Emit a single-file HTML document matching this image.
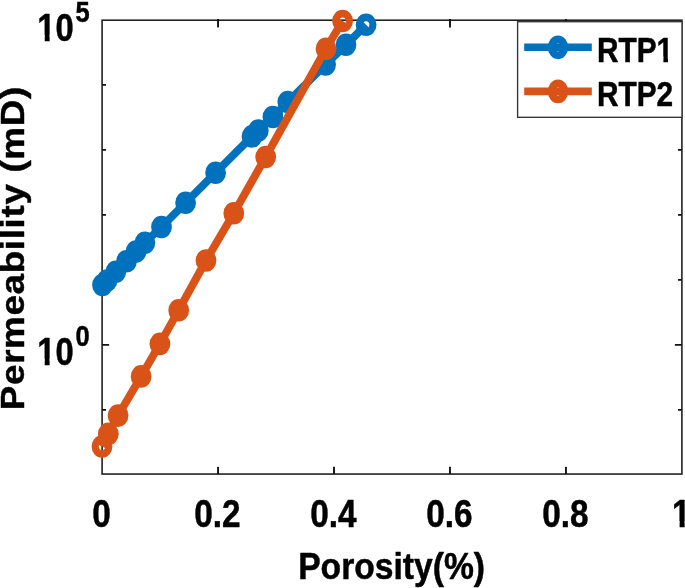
<!DOCTYPE html>
<html><head><meta charset="utf-8"><title>Permeability vs Porosity</title>
<style>html,body{margin:0;padding:0;background:#fff}body{width:685px;height:588px;overflow:hidden}</style></head>
<body>
<svg width="685" height="588" viewBox="0 0 685 588" style="display:block" font-family="'Liberation Sans', sans-serif" font-weight="bold">
<rect width="685" height="588" fill="#fff"/>
<g stroke="#222" stroke-width="1.6" fill="none">
<rect x="102.10" y="20.20" width="579.80" height="453.85"/>
<path stroke="#111" stroke-width="1.9" d="M218.06 474.05v-7.2"/>
<path stroke="#111" stroke-width="1.9" d="M218.06 19.00v8.4"/>
<path stroke="#111" stroke-width="1.9" d="M334.02 474.05v-7.2"/>
<path stroke="#111" stroke-width="1.9" d="M449.98 474.05v-7.2"/>
<path stroke="#111" stroke-width="1.9" d="M449.98 19.00v8.4"/>
<path stroke="#111" stroke-width="1.9" d="M565.94 474.05v-7.2"/>
<path stroke="#111" stroke-width="1.9" d="M565.94 19.00v8.4"/>
<path stroke="#111" stroke-width="1.9" d="M102.10 84.85h3.9M681.90 84.85h-3.9"/>
<path stroke="#111" stroke-width="1.9" d="M102.10 149.85h3.9M681.90 149.85h-3.9"/>
<path stroke="#111" stroke-width="1.9" d="M102.10 214.85h3.9M681.90 214.85h-3.9"/>
<path stroke="#111" stroke-width="1.9" d="M102.10 279.85h3.9M681.90 279.85h-3.9"/>
<path stroke="#111" stroke-width="1.9" d="M102.10 344.85h7.0M681.90 344.85h-7.0"/>
<path stroke="#111" stroke-width="1.9" d="M102.10 409.85h3.9M681.90 409.85h-3.9"/>
</g>
<polyline fill="none" stroke="#0072BD" stroke-width="7.9" stroke-linejoin="round" points="102.5,285.0 107.0,280.5 115.8,271.7 126.5,261.3 136.0,251.6 144.9,242.7 161.5,227.0 185.6,202.7 215.6,172.7 252.0,136.4 258.3,130.6 272.9,117.0 287.8,102.0 325.6,64.5 346.0,44.8 366.1,24.7"/>
<circle transform="translate(102.5,285.0) scale(0.92,1)" r="7.4" fill="none" stroke="#0072BD" stroke-width="7.8"/>
<circle transform="translate(107.0,280.5) scale(0.92,1)" r="7.4" fill="none" stroke="#0072BD" stroke-width="7.8"/>
<circle transform="translate(115.8,271.7) scale(0.92,1)" r="7.4" fill="none" stroke="#0072BD" stroke-width="7.8"/>
<circle transform="translate(126.5,261.3) scale(0.92,1)" r="7.4" fill="none" stroke="#0072BD" stroke-width="7.8"/>
<circle transform="translate(136.0,251.6) scale(0.92,1)" r="7.4" fill="none" stroke="#0072BD" stroke-width="7.8"/>
<circle transform="translate(144.9,242.7) scale(0.92,1)" r="7.4" fill="none" stroke="#0072BD" stroke-width="7.8"/>
<circle transform="translate(161.5,227.0) scale(0.92,1)" r="7.4" fill="none" stroke="#0072BD" stroke-width="7.8"/>
<circle transform="translate(185.6,202.7) scale(0.92,1)" r="7.4" fill="none" stroke="#0072BD" stroke-width="7.8"/>
<circle transform="translate(215.6,172.7) scale(0.92,1)" r="7.4" fill="none" stroke="#0072BD" stroke-width="7.8"/>
<circle transform="translate(252.0,136.4) scale(0.92,1)" r="7.4" fill="none" stroke="#0072BD" stroke-width="7.8"/>
<circle transform="translate(258.3,130.6) scale(0.92,1)" r="7.4" fill="none" stroke="#0072BD" stroke-width="7.8"/>
<circle transform="translate(272.9,117.0) scale(0.92,1)" r="7.4" fill="none" stroke="#0072BD" stroke-width="7.8"/>
<circle transform="translate(287.8,102.0) scale(0.92,1)" r="7.4" fill="none" stroke="#0072BD" stroke-width="7.8"/>
<circle transform="translate(325.6,64.5) scale(0.92,1)" r="7.4" fill="none" stroke="#0072BD" stroke-width="7.8"/>
<circle transform="translate(346.0,44.8) scale(0.92,1)" r="7.4" fill="none" stroke="#0072BD" stroke-width="7.8"/>
<circle transform="translate(366.1,24.7) scale(0.92,1)" r="7.4" fill="none" stroke="#0072BD" stroke-width="7.8"/>
<polyline fill="none" stroke="#D95319" stroke-width="7.9" stroke-linejoin="round" points="102.0,446.5 108.3,433.9 118.1,415.6 141.1,376.4 159.9,343.9 178.7,310.2 206.0,260.5 233.8,213.2 265.7,157.0 326.0,48.7 342.6,21.0"/>
<circle transform="translate(102.0,446.5) scale(0.92,1)" r="7.4" fill="none" stroke="#D95319" stroke-width="7.8"/>
<circle transform="translate(108.3,433.9) scale(0.92,1)" r="7.4" fill="none" stroke="#D95319" stroke-width="7.8"/>
<circle transform="translate(118.1,415.6) scale(0.92,1)" r="7.4" fill="none" stroke="#D95319" stroke-width="7.8"/>
<circle transform="translate(141.1,376.4) scale(0.92,1)" r="7.4" fill="none" stroke="#D95319" stroke-width="7.8"/>
<circle transform="translate(159.9,343.9) scale(0.92,1)" r="7.4" fill="none" stroke="#D95319" stroke-width="7.8"/>
<circle transform="translate(178.7,310.2) scale(0.92,1)" r="7.4" fill="none" stroke="#D95319" stroke-width="7.8"/>
<circle transform="translate(206.0,260.5) scale(0.92,1)" r="7.4" fill="none" stroke="#D95319" stroke-width="7.8"/>
<circle transform="translate(233.8,213.2) scale(0.92,1)" r="7.4" fill="none" stroke="#D95319" stroke-width="7.8"/>
<circle transform="translate(265.7,157.0) scale(0.92,1)" r="7.4" fill="none" stroke="#D95319" stroke-width="7.8"/>
<circle transform="translate(326.0,48.7) scale(0.92,1)" r="7.4" fill="none" stroke="#D95319" stroke-width="7.8"/>
<circle transform="translate(342.6,21.0) scale(0.92,1)" r="7.4" fill="none" stroke="#D95319" stroke-width="7.8"/>
<rect x="517.6" y="21.7" width="164.4" height="95.6" fill="#fff" stroke="#333" stroke-width="1.35"/>
<path d="M524.2 47.3H591.8" stroke="#0072BD" stroke-width="7.6"/>
<ellipse cx="558" cy="47.3" rx="6.25" ry="8.0" fill="none" stroke="#0072BD" stroke-width="7.8"/>
<path d="M524.2 91.4H591.8" stroke="#D95319" stroke-width="7.6"/>
<ellipse cx="558" cy="91.4" rx="6.25" ry="8.0" fill="none" stroke="#D95319" stroke-width="7.8"/>
<g fill="#000" stroke="#000" stroke-width="0.50" stroke-linejoin="round">
<g transform="translate(597.00,62.10) scale(0.857,1)"><text font-size="34.80" text-anchor="start">RTP1</text><rect x="69.99" y="-5.50" width="7.48" height="8.25" fill="#fff" stroke="none"/><rect x="82.75" y="-5.50" width="7.04" height="8.25" fill="#fff" stroke="none"/></g>
<g transform="translate(597.00,105.60) scale(0.857,1)"><text font-size="34.80" text-anchor="start">RTP2</text></g>
<g transform="translate(101.50,527.10) scale(0.875,1)"><text font-size="38.10" text-anchor="middle">0</text></g>
<g transform="translate(217.46,527.10) scale(0.875,1)"><text font-size="38.10" text-anchor="middle">0.2</text></g>
<g transform="translate(333.42,527.10) scale(0.875,1)"><text font-size="38.10" text-anchor="middle">0.4</text></g>
<g transform="translate(449.38,527.10) scale(0.875,1)"><text font-size="38.10" text-anchor="middle">0.6</text></g>
<g transform="translate(565.34,527.10) scale(0.875,1)"><text font-size="38.10" text-anchor="middle">0.8</text></g>
<g transform="translate(681.30,527.10) scale(0.875,1)"><text font-size="38.10" text-anchor="middle">1</text><rect x="-9.99" y="-5.84" width="8.04" height="8.59" fill="#fff" stroke="none"/><rect x="3.78" y="-5.84" width="7.56" height="8.59" fill="#fff" stroke="none"/></g>
<g transform="translate(37.30,40.60) scale(0.860,1)"><text font-size="38.00" text-anchor="start">10</text><rect x="0.59" y="-5.83" width="8.03" height="8.58" fill="#fff" stroke="none"/><rect x="14.33" y="-5.83" width="7.54" height="8.58" fill="#fff" stroke="none"/></g>
<g transform="translate(75.60,22.40) scale(0.850,1)"><text font-size="30.00" text-anchor="start">5</text></g>
<g transform="translate(37.30,364.68) scale(0.860,1)"><text font-size="38.00" text-anchor="start">10</text><rect x="0.59" y="-5.83" width="8.03" height="8.58" fill="#fff" stroke="none"/><rect x="14.33" y="-5.83" width="7.54" height="8.58" fill="#fff" stroke="none"/></g>
<g transform="translate(75.60,346.48) scale(0.850,1)"><text font-size="30.00" text-anchor="start">0</text></g>
<g transform="translate(391.60,578.90) scale(0.912,1)"><text font-size="36.90" text-anchor="middle">Porosity(%)</text></g>
<g transform="translate(23.6,248.2) scale(0.905,1) rotate(-90)"><text font-size="36.8" letter-spacing="0.66" text-anchor="middle">Permeability (mD)</text></g>
</g>
</svg>
</body></html>
